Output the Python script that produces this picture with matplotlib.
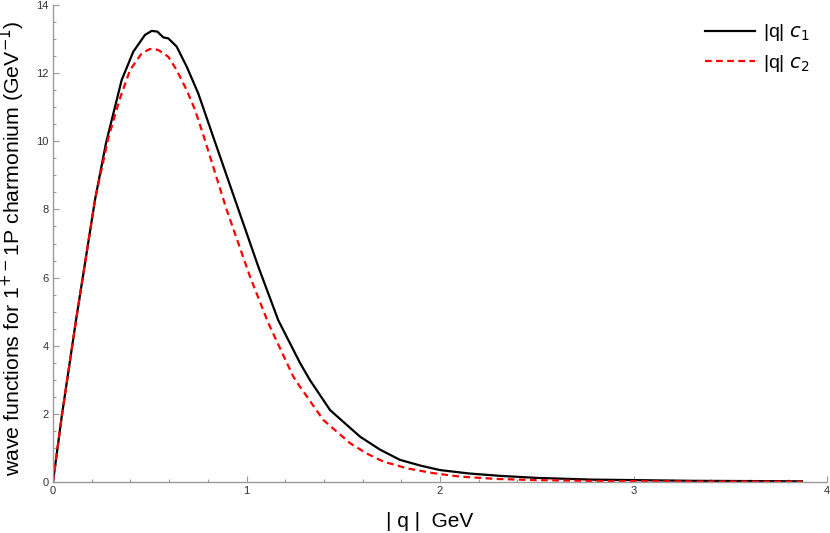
import numpy as np
import matplotlib
matplotlib.use("Agg")
import matplotlib.pyplot as plt
from matplotlib.ticker import MultipleLocator

plt.rcParams['font.family'] = ['Liberation Sans Narrow', 'Liberation Sans', 'DejaVu Sans']
plt.rcParams['mathtext.fontset'] = 'custom'
plt.rcParams['mathtext.rm'] = 'Liberation Sans Narrow'
plt.rcParams['mathtext.it'] = 'Liberation Sans Narrow:italic'

# curva |q| c1 (negra)
q_c1 = [0, 0.045, 0.119, 0.217, 0.274, 0.355, 0.415, 0.475, 0.51, 0.539, 0.57,
        0.596, 0.639, 0.691, 0.751, 0.828, 0.941, 1.061, 1.164, 1.276, 1.328,
        1.432, 1.587, 1.69, 1.793, 1.9, 2.0, 2.15, 2.31, 2.5, 2.79, 3.3, 3.87]
c1 = [0, 1.92, 4.75, 8.28, 9.95, 11.8, 12.63, 13.12, 13.24, 13.22, 13.05,
      13.02, 12.78, 12.19, 11.4, 10.13, 8.28, 6.32, 4.75, 3.5, 2.99,
      2.11, 1.33, 0.95, 0.65, 0.48, 0.35, 0.25, 0.18, 0.12, 0.07, 0.035, 0.02]

# curva |q| c2 (roja discontinua)
q_c2 = [0, 0.045, 0.119, 0.217, 0.286, 0.346, 0.398, 0.458, 0.501, 0.544,
        0.596, 0.639, 0.691, 0.734, 0.777, 0.898, 1.018, 1.113, 1.242, 1.276,
        1.397, 1.535, 1.62, 1.707, 1.83, 1.965, 2.1, 2.29, 2.5, 2.8, 3.3, 3.87]
c2 = [0, 1.92, 4.75, 8.28, 10.1, 11.26, 12.09, 12.58, 12.71, 12.68,
      12.48, 12.09, 11.5, 10.92, 10.18, 7.98, 6.03, 4.66, 3.09, 2.80,
      1.82, 1.14, 0.84, 0.60, 0.40, 0.26, 0.16, 0.09, 0.055, 0.03, 0.015, 0.01]

fig = plt.figure(figsize=(8.3, 5.33), dpi=100)
ax = fig.add_axes([53/830, 1 - 482/533, (827 - 53)/830, (482 - 5)/533])

ax.plot(q_c1, c1, color='black', lw=1.6, label=r'|q| $c_1$')
ax.plot(q_c2, c2, color='#ff0000', lw=1.6, ls=(0, (3, 2)), label=r'|q| $c_2$')

ax.set_xlim(0, 4)
ax.set_ylim(0, 14)
ax.xaxis.set_major_locator(MultipleLocator(1))
ax.xaxis.set_minor_locator(MultipleLocator(0.2))
ax.yaxis.set_major_locator(MultipleLocator(2))
ax.yaxis.set_minor_locator(MultipleLocator(0.5))

for s in ['top', 'right']:
    ax.spines[s].set_visible(False)
for s in ['left', 'bottom']:
    ax.spines[s].set_color('#999999')
    ax.spines[s].set_linewidth(1.0)

ax.tick_params(which='both', direction='in', color='#999999', width=0.8,
               labelsize=8, labelcolor='#333333')
ax.tick_params(which='major', length=4.5, pad=3)
ax.tick_params(which='minor', length=2.5)

ax.set_xlabel('| q |  GeV', fontsize=15)
ax.xaxis.set_label_coords(0.487, -0.062)
ax.set_ylabel(r'wave functions for 1$^{+-}$1P charmonium (GeV$^{-1}$)', fontsize=15.3)
ax.yaxis.set_label_coords(-0.033, 0.49)

ax.legend(loc='upper right', bbox_to_anchor=(1.0, 1.0), frameon=False,
          fontsize=14, handlelength=2.6, handletextpad=0.4, labelspacing=0.5)

fig.savefig('out.png', dpi=100)
